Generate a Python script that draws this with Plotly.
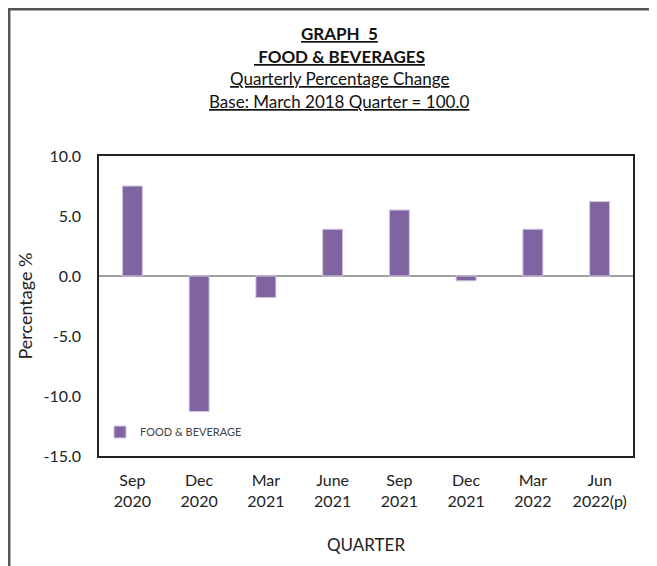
import plotly.graph_objects as go

categories = ["Sep<br>2020", "Dec<br>2020", "Mar<br>2021", "June<br>2021",
              "Sep<br>2021", "Dec<br>2021", "Mar<br>2022", "Jun<br>2022(p)"]
values = [7.5, -11.3, -1.8, 3.9, 5.5, -0.4, 3.9, 6.2]
y_ticks = [10, 5, 0, -5, -10, -15]
y_tick_labels = ["10.0", "5.0", "0.0", "-5.0", "-10.0", "-15.0"]
title_lines = ["<b><u>GRAPH  5</u></b>", "<b><u> FOOD & BEVERAGES</u></b>",
               "<u>Quarterly Percentage Change</u>",
               "<u>Base: March 2018 Quarter = 100.0</u>"]

OFF = 8  # page body margin
W, H = 657 - OFF, 566 - OFF
L, T = 99 - OFF, 156 - OFF
R, B = 24, 110
pw, ph = W - L - R, H - T - B

def px(x):  # page x -> paper
    return (x - OFF - L) / pw

def py(y):  # page y -> paper
    return (H - B - (y - OFF)) / ph

FONT = "Lato, 'Open Sans', sans-serif"

fig = go.Figure()
fig.add_trace(go.Bar(
    x=categories, y=values, name="FOOD & BEVERAGE",
    marker=dict(color="#8064A2", line=dict(color="#d4c8e4", width=1)),
    width=0.3,
))

fig.update_layout(
    width=W, height=H,
    margin=dict(l=L, r=R, t=T, b=B, pad=0),
    paper_bgcolor="white", plot_bgcolor="white",
    font=dict(family=FONT, size=16, color="#222"),
    showlegend=True,
    legend=dict(x=px(100), y=py(432), xanchor="left", yanchor="middle",
                bgcolor="rgba(0,0,0,0)", font=dict(size=11, color="#444"),
                itemwidth=30, tracegroupgap=0),
    xaxis=dict(showline=True, mirror=True, linecolor="#222", linewidth=1.5,
               ticks="", tickfont=dict(size=16), showgrid=False,
               ticklabelstandoff=9,
               title=dict(text="QUARTER", font=dict(size=17), standoff=30)),
    yaxis=dict(range=[-15, 10], tickvals=y_ticks, ticktext=y_tick_labels,
               showline=True, mirror=True, linecolor="#222", linewidth=1.5,
               ticks="", showgrid=False, zeroline=True, zerolinecolor="#a0a0a0",
               zerolinewidth=1.5, tickfont=dict(size=16), ticklabelstandoff=13,
               title=dict(text="Percentage %", font=dict(size=18), standoff=6)),
)

ys = [34, 56, 78, 101]
for txt, yy in zip(title_lines, ys):
    fig.add_annotation(text=txt, x=px(339), y=py(yy), xref="paper", yref="paper",
                       showarrow=False, xanchor="center", yanchor="middle",
                       font=dict(size=17, color="#111"))

fig.add_shape(type="rect", xref="paper", yref="paper",
              x0=px(OFF + 1.2), x1=px(720), y0=py(640), y1=py(OFF + 1.2),
              line=dict(color="#555", width=2.5), fillcolor="rgba(0,0,0,0)", layer="above")

fig.write_html("out.html")
